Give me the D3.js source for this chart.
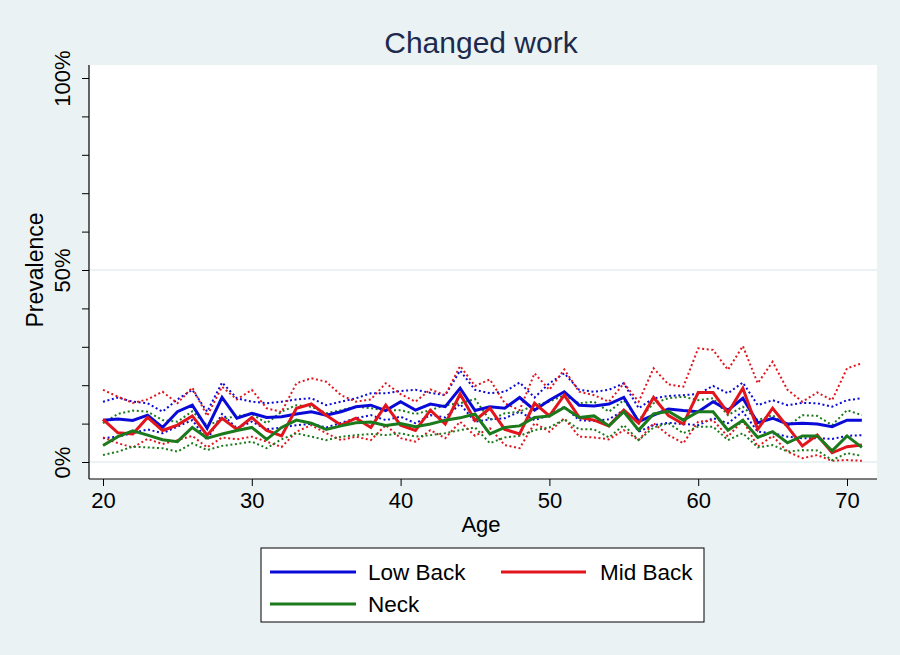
<!DOCTYPE html>
<html>
<head>
<meta charset="utf-8">
<script src="https://cdn.jsdelivr.net/npm/d3@7/dist/d3.min.js"></script>
<style>
html,body{margin:0;padding:0;background:#eaf2f3;}
svg{display:block;font-family:"Liberation Sans",Arial,sans-serif;}
</style>
</head>
<body>
<svg id="chart" width="900" height="655"></svg>
<script>
// ---- data ----
const ages = d3.range(20, 72);
const lowBack = [10.9,11.2,10.8,12.2,9.0,13.1,14.8,8.8,16.8,11.4,12.7,11.6,11.8,12.5,13.1,12.2,13.1,14.4,14.8,13.4,15.7,13.5,15.1,14.4,19.2,13.4,14.4,14.0,16.8,13.5,16.1,18.3,14.8,14.6,15.1,16.8,10.5,12.2,13.8,13.4,13.1,15.7,13.5,16.6,10.2,11.4,9.9,10.1,9.9,9.2,10.9,10.9];
const lowBackHi = [15.7,16.8,15.7,15.3,13.1,16.3,18.8,13.1,20.7,16.6,15.7,15.3,15.7,16.3,16.6,14.8,15.7,16.6,17.9,17.9,18.5,18.8,18.0,17.4,23.8,18.8,17.9,18.3,20.7,16.8,20.5,23.1,18.8,18.3,18.8,20.5,14.0,16.6,17.2,17.4,17.7,19.8,17.9,20.7,14.8,16.1,14.8,15.4,15.3,14.4,16.1,16.6];
const lowBackLo = [6.2,6.6,7.5,8.5,7.5,9.2,10.9,5.7,12.5,8.8,10.5,8.5,9.0,9.6,9.9,9.0,10.2,11.4,12.2,10.9,11.8,10.1,12.2,11.6,15.1,10.5,11.1,11.4,13.1,10.9,12.2,14.4,10.9,10.7,11.1,13.5,7.9,9.6,10.2,9.9,9.6,11.4,10.1,13.1,7.9,7.5,6.6,6.2,6.2,6.0,6.8,7.0];
const midBack = [11.1,7.6,7.3,11.6,8.2,9.6,12.0,7.0,11.4,8.5,11.6,8.2,6.8,14.0,15.1,12.2,9.6,11.4,9.0,14.8,9.6,8.2,13.5,9.9,17.7,10.8,14.0,8.5,7.3,15.3,12.0,17.4,11.6,10.9,9.4,13.5,10.1,16.8,12.1,9.9,18.1,18.1,12.8,19.2,8.5,14.0,9.2,4.2,7.0,2.4,4.0,4.4];
const midBackHi = [18.8,17.0,15.4,16.3,18.3,15.3,19.4,12.0,19.6,16.3,18.8,14.0,13.0,20.5,21.8,20.9,17.4,15.7,16.3,20.5,17.7,15.7,18.9,17.4,25.0,19.8,21.5,15.3,13.5,23.1,18.8,24.1,18.3,17.4,15.7,20.5,15.7,24.4,20.2,19.6,29.6,29.2,24.0,30.2,20.5,26.1,18.8,15.7,18.1,16.1,24.4,25.7];
const midBackLo = [6.4,4.9,3.8,6.0,4.7,5.7,6.8,3.8,6.4,5.9,6.6,5.3,3.9,7.9,9.6,7.5,5.7,6.6,5.7,9.6,6.2,5.3,8.3,6.2,10.5,6.8,8.8,4.4,3.6,10.1,7.9,11.4,6.6,6.4,5.9,8.3,5.7,10.1,7.0,4.9,10.5,10.9,6.6,10.9,4.0,6.8,2.7,1.0,1.8,0.3,0.5,0.3];
const neck = [4.3,6.6,8.1,7.0,5.8,5.3,9.0,6.2,7.3,8.2,9.0,5.9,9.0,10.9,10.1,8.5,9.4,10.2,10.4,9.5,10.0,9.2,9.9,10.9,11.5,12.5,7.3,9.0,9.4,11.6,12.0,14.2,11.6,12.0,9.4,13.1,8.3,12.5,13.2,10.9,13.1,13.1,8.3,10.9,6.4,7.9,5.0,6.8,6.8,2.9,6.8,3.8];
const neckHi = [10.1,12.5,13.4,13.1,10.9,10.5,13.2,9.5,11.1,12.0,12.5,10.1,13.1,14.8,14.4,12.7,13.5,14.4,14.0,13.4,13.5,12.5,13.5,14.8,15.3,16.4,10.9,12.7,13.1,14.8,15.7,17.4,15.3,15.7,13.1,16.1,10.9,15.3,16.6,17.0,16.1,16.6,12.2,14.4,10.9,12.2,9.2,12.2,12.0,9.6,13.5,12.2];
const neckLo = [1.8,2.7,4.0,3.8,3.6,2.7,4.9,3.1,4.2,4.7,5.3,3.6,5.9,7.5,6.6,5.7,6.6,7.0,7.3,7.0,7.5,6.6,7.0,7.5,8.3,9.0,4.9,6.4,6.8,8.3,9.0,11.1,8.5,8.5,6.4,9.6,5.7,9.0,10.1,7.5,9.2,9.2,5.7,7.5,3.8,4.4,2.7,3.1,3.0,0.5,2.3,1.6];
const xTicks = [20,30,40,50,60,70];
const yMajor = [0,50,100];
const yMinor = [10,20,30,40,60,70,80,90];
const yTickLabels = ["0%","50%","100%"];
const seriesNames = ["Low Back","Mid Back","Neck"];
const colors = ["#0a0ad8","#e2141c","#1b7a1b"];

// ---- layout ----
const svg = d3.select("#chart");
const L = 89, R = 877, T = 65, B = 479;
const x = d3.scaleLinear().domain([20,70]).range([103,847]);
const y = d3.scaleLinear().domain([0,100]).range([462,78]);

svg.append("rect").attr("x",0).attr("y",0).attr("width",900).attr("height",655).attr("fill","#eaf2f3");
svg.append("rect").attr("x",L).attr("y",T).attr("width",R-L).attr("height",B-T).attr("fill","#ffffff");

// gridlines
svg.append("g").selectAll("line").data([0,50]).join("line")
  .attr("x1",L).attr("x2",R).attr("y1",d=>y(d)).attr("y2",d=>y(d))
  .attr("stroke","#e3eeef").attr("stroke-width",1.5);

// title
svg.append("text").attr("x",481).attr("y",53).attr("text-anchor","middle")
  .attr("font-size",30).attr("fill","#1c2a4e").text("Changed work");

// y axis
const yAxis = d3.axisLeft(y).tickValues(yMajor).tickSize(7).tickPadding(10)
  .tickFormat((d,i)=>yTickLabels[i]);
const gy = svg.append("g").attr("transform",`translate(${L},0)`).call(yAxis);
gy.select(".domain").attr("d",`M0,${T}V${B}`).attr("stroke","#000").attr("stroke-width",1.2);
gy.selectAll(".tick line").attr("stroke","#000");
gy.selectAll(".tick text").attr("font-size",22).attr("fill","#000")
  .attr("font-family","Liberation Sans, Arial, sans-serif")
  .attr("transform","rotate(-90)").attr("x",0).attr("dy",0).attr("y",-19)
  .attr("text-anchor","middle");
const gym = svg.append("g").attr("transform",`translate(${L},0)`)
  .call(d3.axisLeft(y).tickValues(yMinor).tickSize(7).tickFormat(""));
gym.select(".domain").remove();
gym.selectAll(".tick line").attr("stroke","#000");

svg.append("text").attr("transform","translate(43,270) rotate(-90)")
  .attr("text-anchor","middle").attr("font-size",23).attr("fill","#000").text("Prevalence");

// x axis
const gx = svg.append("g").attr("transform",`translate(0,${B})`)
  .call(d3.axisBottom(x).tickValues(xTicks).tickSize(7).tickPadding(6).tickFormat(d3.format("d")));
gx.select(".domain").attr("d",`M${L},0H${R}`).attr("stroke","#000").attr("stroke-width",1.2);
gx.selectAll(".tick line").attr("stroke","#000");
gx.selectAll(".tick text").attr("font-size",22).attr("fill","#000")
  .attr("font-family","Liberation Sans, Arial, sans-serif");
svg.append("text").attr("x",481).attr("y",532).attr("text-anchor","middle")
  .attr("font-size",22).attr("fill","#000").text("Age");

// lines
const line = d3.line().x((d,i)=>x(ages[i])).y(d=>y(d));
const ci = [[lowBackHi,0],[lowBackLo,0],[midBackHi,1],[midBackLo,1],[neckHi,2],[neckLo,2]];
const gci = svg.append("g");
ci.forEach(([arr,c])=>{
  gci.append("path").datum(arr).attr("d",line).attr("fill","none")
    .attr("stroke",colors[c]).attr("stroke-width",2).attr("stroke-dasharray","2,2.6");
});
const mains = [lowBack, midBack, neck];
mains.forEach((arr,c)=>{
  svg.append("path").datum(arr).attr("d",line).attr("fill","none")
    .attr("stroke",colors[c]).attr("stroke-width",3).attr("stroke-linejoin","miter");
});

// legend
const lg = svg.append("g");
lg.append("rect").attr("x",261).attr("y",548).attr("width",443).attr("height",74)
  .attr("fill","#fff").attr("stroke","#000").attr("stroke-width",1);
const items = [{n:0,x:270,y:572,w:86,tx:368},{n:1,x:501,y:572,w:85,tx:600},{n:2,x:270,y:604,w:86,tx:368}];
items.forEach(it=>{
  lg.append("line").attr("x1",it.x).attr("x2",it.x+it.w).attr("y1",it.y).attr("y2",it.y)
    .attr("stroke",colors[it.n]).attr("stroke-width",3);
  lg.append("text").attr("x",it.tx).attr("y",it.y+8).attr("font-size",22.5).attr("fill","#000")
    .text(seriesNames[it.n]);
});
</script>
</body>
</html>
